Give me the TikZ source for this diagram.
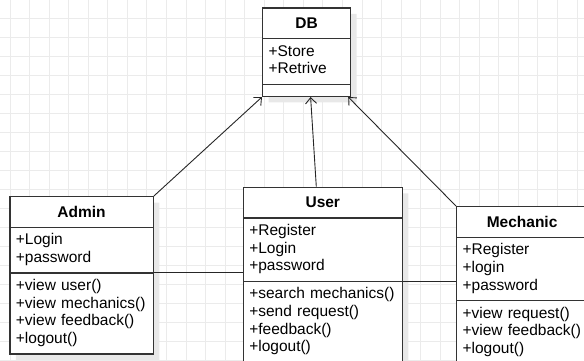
\documentclass[tikz,border=0pt]{standalone}
\usepackage{fontspec}
\setmainfont{Liberation Sans}
\usetikzlibrary{arrows.meta, shapes.multipart, shadows, calc}
\tikzset{
    my-grid/.style={
        draw=black!8, line width=0.8pt
    },
    my-class/.style={
        rectangle split, rectangle split parts=3, draw=black!80, line width=1.2pt,
        fill=white, anchor=north west, text width=#1, align=left,
        inner xsep=6pt, inner ysep=4.5pt, font=\fontsize{15.5}{17.7}\selectfont,
        drop shadow={shadow xshift=6pt, shadow yshift=-6pt, draw=none, fill=black!9, opacity=1}
    },
    my-link/.style={
        draw=black!85, line width=0.9pt
    },
    my-arrow/.style={
        my-link, -{Straight Barb[length=6pt, width=11pt]}
    },
}
\newcommand{\clsname}[1]{\makebox[\linewidth]{\rule[-5pt]{0pt}{20.5pt}\textbf{#1}}}

\begin{document}
\begin{tikzpicture}[x=1pt, y=-1pt]

        \useasboundingbox (0,0) rectangle (584,360);

        % BACKGROUND GRID
        \foreach \gx in {0,...,29} \draw[my-grid] ({10+\gx*19.55}, 0) -- ({10+\gx*19.55}, 360);
        \foreach \gy in {0,...,18} \draw[my-grid] (0, {18+\gy*19}) -- (584, {18+\gy*19});

        % CLASSES
        \node[my-class=76pt] (DB) at (262, 7.3) {\clsname{DB}
            \nodepart{two}+Store\strut\\+Retrive\strut
            \nodepart{three}\rule{0pt}{2pt}};

        \node[my-class=131.4pt] (Admin) at (9.3, 196) {\clsname{Admin}
            \nodepart{two}+Login\strut\\+password\strut
            \nodepart{three}+view user()\strut\\+view mechanics()\strut\\+view feedback()\strut\\+logout()\strut};

        \node[my-class=147pt] (User) at (242.7, 186.7) {\clsname{User}
            \nodepart{two}+Register\strut\\+Login\strut\\+password\strut
            \nodepart{three}+search mechanics()\strut\\+send request()\strut\\+feedback()\strut\\+logout()\strut};

        \node[my-class=119pt] (Mechanic) at (456, 206) {\clsname{Mechanic}
            \nodepart{two}+Register\strut\\+login\strut\\+password\strut
            \nodepart{three}+view request()\strut\\+view feedback()\strut\\+logout()\strut};

        % DEPENDENCIES ON DB
        \draw[my-arrow] (Admin.north east) -- (DB.south west);
        \draw[my-arrow] ($(User.north) + (-6.5, 0)$) -- ($(DB.south) + (4, 0)$);
        \draw[my-arrow] (Mechanic.north west) -- ($(DB.south east) + (-3, 0)$);

        % ASSOCIATIONS
        \draw[my-link] (Admin.two split east) -- (Admin.two split east -| User.west);
        \draw[my-link] (User.two split east) -- (User.two split east -| Mechanic.west);

    \end{tikzpicture}
\end{document}
